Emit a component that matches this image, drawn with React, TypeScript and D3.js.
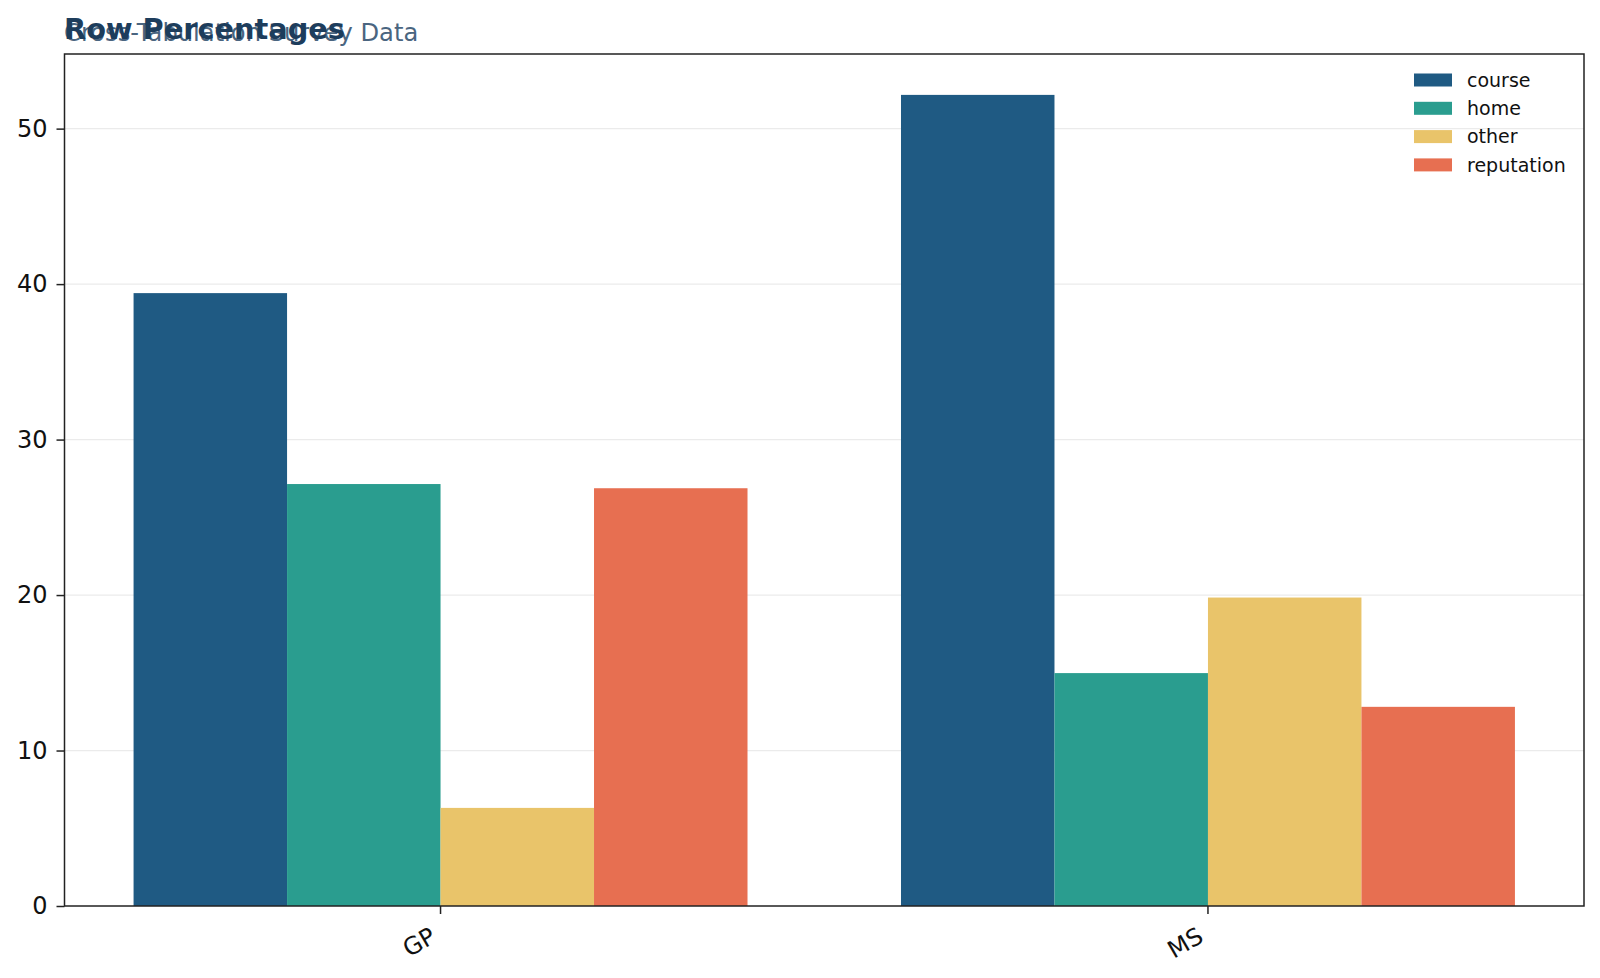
import React, {useEffect, useRef} from "react";
import * as d3 from "d3";

const schools = ["GP", "MS"]
const reasons = ["course", "home", "other", "reputation"]
const courseVals = [39.42, 52.17]
const homeVals = [27.14, 14.98]
const otherVals = [6.31, 19.84]
const reputationVals = [26.87, 12.81]
const yTicks = [0, 10, 20, 30, 40, 50]
const colors = ["#1f5a83", "#2a9d8f", "#e9c46a", "#e76f51"]

const W = 1600, H = 978
const M = {left: 64.5, right: 16, top: 54, bottom: 72}

const App = () => {
    const svgRef = useRef(null)

    useEffect(() => {
        document.body.style.margin = "0"
        document.body.style.overflow = "hidden"
        const svg = d3.select(svgRef.current)
        svg.selectAll("*").remove()
        const series = [courseVals, homeVals, otherVals, reputationVals]
        const rows = schools.map((s, i) => ({school: s, vals: series.map(v => v[i])}))

        const x0 = d3.scaleBand().domain(schools).range([M.left, W - M.right])
            .paddingInner(0.2).paddingOuter(0.09)
        const x1 = d3.scaleBand().domain(reasons).range([0, x0.bandwidth()])
        const y = d3.scaleLinear().domain([0, 54.8]).range([H - M.bottom, M.top])

        // grid
        svg.append("g").selectAll("line").data(yTicks.slice(1)).join("line")
            .attr("x1", M.left).attr("x2", W - M.right)
            .attr("y1", d => y(d)).attr("y2", d => y(d))
            .attr("stroke", "#ebebeb").attr("stroke-width", 1.2)

        // bars
        svg.append("g").selectAll("g").data(rows).join("g")
            .attr("transform", d => `translate(${x0(d.school)},0)`)
            .selectAll("rect").data(d => d.vals.map((v, i) => ({k: reasons[i], v, i}))).join("rect")
            .attr("x", d => x1(d.k)!).attr("width", x1.bandwidth())
            .attr("y", d => y(d.v)).attr("height", d => y(0) - y(d.v))
            .attr("fill", d => colors[d.i])

        // frame
        svg.append("rect").attr("x", M.left).attr("y", M.top)
            .attr("width", W - M.left - M.right).attr("height", H - M.top - M.bottom)
            .attr("fill", "none").attr("stroke", "#222").attr("stroke-width", 1.5)

        // y axis
        const yAxis = d3.axisLeft(y).tickValues(yTicks).tickSize(8).tickPadding(9)
        const gy = svg.append("g").attr("transform", `translate(${M.left},0)`).call(yAxis)
        gy.select(".domain").remove()
        gy.selectAll("line").attr("stroke", "#222").attr("stroke-width", 1.5)
        gy.selectAll("text").attr("font-size", 24).attr("font-family", "DejaVu Sans").attr("fill", "#111")

        // x axis, labels rotated 30deg and right-aligned under the tick
        const xAxis = d3.axisBottom(x0).tickSize(8)
        const gx = svg.append("g").attr("transform", `translate(0,${H - M.bottom})`).call(xAxis)
        gx.select(".domain").remove()
        gx.selectAll("line").attr("stroke", "#222").attr("stroke-width", 1.5)
        gx.selectAll("text").attr("font-size", 24).attr("font-family", "DejaVu Sans").attr("fill", "#111")
            .attr("text-anchor", "end").attr("x", 0).attr("y", 0).attr("dy", 0)
            .attr("transform", "translate(-3,35) rotate(-30)")

        // legend
        const lg = svg.append("g").attr("transform", "translate(1414,80)")
        const items = lg.selectAll("g").data(reasons).join("g")
            .attr("transform", (d, i) => `translate(0,${i * 28.3})`)
        items.append("rect").attr("x", 0).attr("y", -6.5).attr("width", 38).attr("height", 13)
            .attr("fill", (d, i) => colors[i])
        items.append("text").attr("x", 53).attr("y", 0).attr("dy", "0.35em")
            .attr("font-size", 19).attr("font-family", "DejaVu Sans").attr("fill", "#111")
            .text(d => d)

        // titles (they overlap in the original as well)
        svg.append("text").attr("x", 64).attr("y", 40.5)
            .attr("font-size", 24.2).attr("font-family", "DejaVu Sans").attr("fill", "#4a6580")
            .text("Cross-Tabulation Survey Data")
        svg.append("text").attr("x", 64).attr("y", 39)
            .attr("font-size", 28.8).attr("font-weight", "bold").attr("font-family", "DejaVu Sans")
            .attr("fill", "#1d3d5c")
            .text("Row Percentages")
    }, [])

    return (
        <div>
            <svg ref={svgRef} width={W} height={H} viewBox={`0 0 ${W} ${H}`} style={{display: "block", background: "#fff"}}/>
        </div>
    );
};

export default App;
